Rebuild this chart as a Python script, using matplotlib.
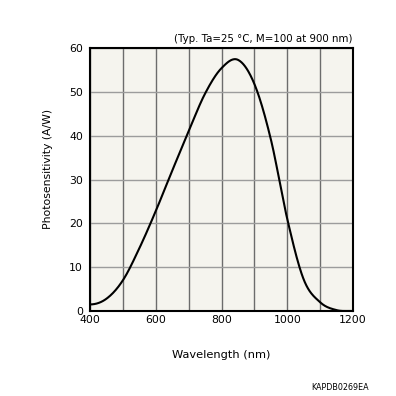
import matplotlib
matplotlib.use("Agg")
import matplotlib.pyplot as plt
import numpy as np

wavelength = [400, 450, 500, 550, 600, 650, 700, 750, 800, 850, 900, 950, 1000, 1050, 1100, 1150, 1200]
sensitivity = [1.5, 2.8, 7.0, 14.3, 22.8, 32.0, 41.0, 49.6, 55.4, 57.3, 51.8, 39.2, 21.0, 7.2, 2.0, 0.2, 0.0]

xticks = [400, 600, 800, 1000, 1200]
yticks = [0, 10, 20, 30, 40, 50, 60]

plt.rcParams['font.family'] = ['DejaVu Sans']

fig = plt.figure(figsize=(3.96, 3.96), dpi=100)
ax = fig.add_axes([90/396, 1-311/396, 263/396, 263/396])
ax.set_facecolor("#f5f4ee")

def catmull(x, y, n=30):
    x = np.asarray(x, float); y = np.asarray(y, float)
    px, py = [], []
    X = np.concatenate([[x[0]-(x[1]-x[0])], x, [2*x[-1]-x[-2]]])
    Y = np.concatenate([[y[1]], y, [2*y[-1]-y[-2]]])
    t = np.linspace(0, 1, n, endpoint=False)
    for i in range(1, len(X)-2):
        for arr, out in ((X, px), (Y, py)):
            p0, p1, p2, p3 = arr[i-1], arr[i], arr[i+1], arr[i+2]
            out.extend(0.5*((2*p1) + (-p0+p2)*t + (2*p0-5*p1+4*p2-p3)*t**2 + (-p0+3*p1-3*p2+p3)*t**3))
    px.append(x[-1]); py.append(y[-1])
    return np.array(px), np.array(py)

cx, cy = catmull(wavelength, sensitivity)
cy = np.maximum(cy, 0)
ax.plot(cx, cy, color="black", lw=1.5, zorder=3, clip_on=True)

ax.set_xlim(400, 1200)
ax.set_ylim(0, 60)
ax.set_xticks(xticks)
ax.set_yticks(yticks)
ax.set_xticks(np.arange(400, 1201, 100), minor=True)
ax.grid(True, which="both", axis="x", color="#6c6c6c", lw=1)
ax.grid(True, which="major", axis="y", color="#9c9c9c", lw=1)
ax.tick_params(which="both", length=0, labelsize=7.8)
ax.tick_params(axis="y", pad=5)
ax.tick_params(axis="x", pad=3)
for s in ax.spines.values():
    s.set_linewidth(1.5)
    s.set_color("black")

fig.text(221/396, 1-355/396, "Wavelength (nm)", fontsize=8.2, ha="center", va="center")
fig.text(48/396, 1-169/396, "Photosensitivity (A/W)", fontsize=7.8, ha="center", va="center", rotation=90)
fig.text(353/396, 1-39/396, "(Typ. Ta=25 °C, M=100 at 900 nm)", fontsize=7.4, ha="right", va="center")
fig.text(369/396, 1-387/396, "KAPDB0269EA", fontsize=5.8, ha="right", va="center")

fig.savefig("out.png", dpi=100)
